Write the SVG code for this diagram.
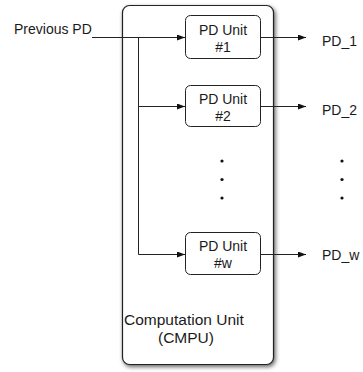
<svg xmlns="http://www.w3.org/2000/svg" width="363" height="372" viewBox="0 0 363 372">
<defs>
<filter id="sh" x="-10%" y="-5%" width="120%" height="110%">
<feDropShadow dx="1.5" dy="2" stdDeviation="2" flood-color="#000" flood-opacity="0.6"/>
</filter>
<marker id="ah" markerWidth="8" markerHeight="6" refX="8" refY="3" orient="auto" markerUnits="userSpaceOnUse">
<path d="M0,0 L8,3 L0,6 Z" fill="#111"/>
</marker>
<style>
text{font-family:"Liberation Sans",Arial,sans-serif;font-size:14px;fill:#1a1a1a}
.c{text-anchor:middle}
.big{font-size:15.5px}
.box{fill:#fff;stroke:#222;stroke-width:1}
.ln{fill:none;stroke:#222;stroke-width:1}
</style>
</defs>
<g id="cmpu">
<rect x="122.5" y="5.5" width="151" height="359" rx="7" fill="#fff" stroke="#222" stroke-width="1.2" filter="url(#sh)"/>
<text class="big" x="124" y="325">Computation Unit</text>
<text class="big" x="158" y="343">(CMPU)</text>
</g>
<g id="pd1">
<rect class="box" x="185.5" y="15.5" width="75" height="43" rx="5"/>
<text class="c" x="223" y="35">PD Unit</text>
<text class="c" x="223" y="52">#1</text>
</g>
<g id="pd2">
<rect class="box" x="185.5" y="85.5" width="75" height="41" rx="5"/>
<text class="c" x="223" y="104">PD Unit</text>
<text class="c" x="223" y="121">#2</text>
</g>
<g id="pdw">
<rect class="box" x="185.5" y="232.5" width="75" height="42" rx="5"/>
<text class="c" x="223" y="251">PD Unit</text>
<text class="c" x="223" y="268">#w</text>
</g>
<g id="labels">
<text x="14" y="34">Previous PD</text>
<text x="322" y="46">PD_1</text>
<text x="322" y="115">PD_2</text>
<text x="322" y="260">PD_w</text>
<g fill="#111">
<circle cx="222" cy="161" r="1.6"/><circle cx="222" cy="179.5" r="1.6"/><circle cx="222" cy="198" r="1.6"/>
<circle cx="342" cy="161" r="1.6"/><circle cx="342" cy="179.5" r="1.6"/><circle cx="342" cy="198" r="1.6"/>
</g>
</g>
<g id="connectors">
<path class="ln" d="M92,37.5 H185" marker-end="url(#ah)"/>
<path class="ln" d="M138.5,37.5 V254.5"/>
<path class="ln" d="M138.5,106.5 H185" marker-end="url(#ah)"/>
<path class="ln" d="M138.5,254.5 H185" marker-end="url(#ah)"/>
<path class="ln" d="M261,37.5 H306" marker-end="url(#ah)"/>
<path class="ln" d="M261,106.5 H306" marker-end="url(#ah)"/>
<path class="ln" d="M261,254.5 H306" marker-end="url(#ah)"/>
</g>
</svg>
